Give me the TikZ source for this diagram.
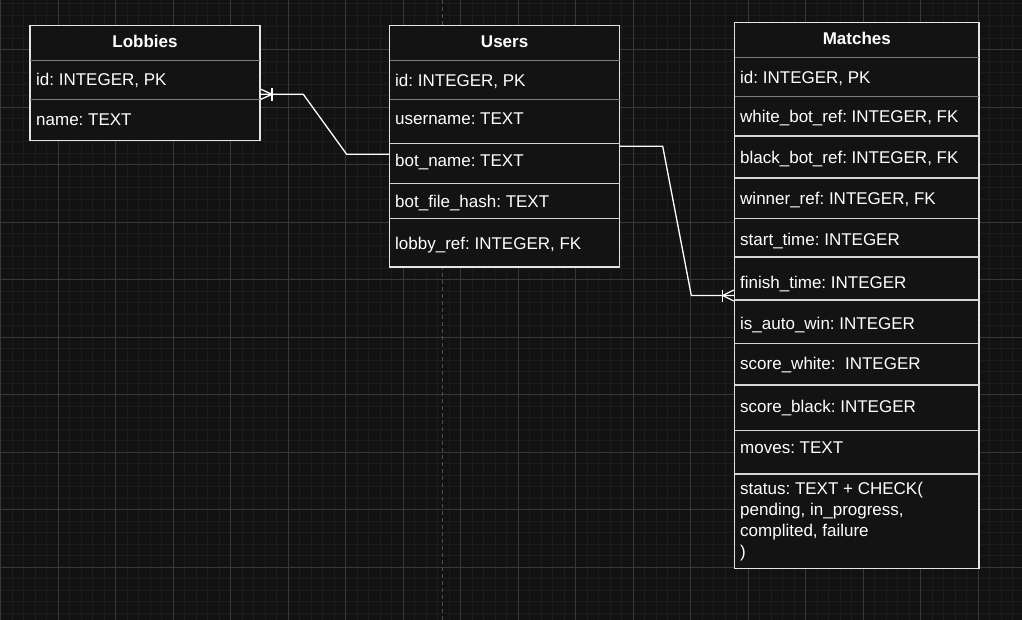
\documentclass[tikz,border=0pt]{standalone}
\usepackage{fontspec}
\setmainfont{Liberation Sans}
\frenchspacing
\usetikzlibrary{positioning}
\usetikzlibrary{calc}

\definecolor{canvas}{RGB}{18,18,18}
\definecolor{gridminor}{RGB}{28,28,28}
\definecolor{gridmajor}{RGB}{56,56,56}
\definecolor{pagebreak}{RGB}{78,78,78}
\definecolor{boxfill}{RGB}{19,19,19}
\definecolor{tableline}{RGB}{228,228,228}
\definecolor{keyline}{RGB}{125,125,125}
\definecolor{rowline}{RGB}{212,212,212}

\begin{document}
\begin{tikzpicture}[x=1pt, y=-1pt,
  table/.style={draw=tableline, fill=boxfill, line width=1.3pt, anchor=north west, inner sep=0pt, outer sep=0pt},
  title/.style={font=\fontsize{17}{21}\selectfont\bfseries, text=white, inner sep=0pt, text height=12.2pt, text depth=0pt},
  field/.style={font=\fontsize{17}{21}\selectfont, text=white, anchor=west, inner sep=0pt, text height=12.2pt, text depth=0pt},
  keysep/.style={draw=keyline, line width=1pt},
  rowsep/.style={draw=rowline, line width=1.2pt},
  link/.style={draw=white, line width=1.3pt},
]

% Canvas
\useasboundingbox (0,0) rectangle (1022,620);
\fill[canvas] (0,0) rectangle (1022,620);

% Draw grid
\begin{scope}
\clip (0,0) rectangle (1022,620);
\foreach \i in {0,...,88} {
    \draw[gridminor, line width=1pt] (0.8+\i*11.5,0) -- (0.8+\i*11.5,620);
}
\foreach \j in {0,...,53} {
    \draw[gridminor, line width=1pt] (0,3.8+\j*11.5) -- (1022,3.8+\j*11.5);
}
\foreach \i in {0,...,17} {
    \draw[gridmajor, line width=1pt] (0.8+\i*57.5,0) -- (0.8+\i*57.5,620);
}
\foreach \j in {1,...,10} {
    \draw[gridmajor, line width=1pt] (0,-7.7+\j*57.5) -- (1022,-7.7+\j*57.5);
}
%page break
\draw[pagebreak, line width=1.5pt, dash pattern=on 4pt off 3pt] (442.7,0) -- (442.7,620);
\end{scope}

% Lobbies
\node[table, minimum width=230pt, minimum height=115pt] (lobbies) at (30,25.5) {};
\draw[keysep] (30,60.3) -- (260,60.3);
\draw[keysep] (30,99.3) -- (260,99.3);
\node[title] (lobbies-title) at (145,41) {Lobbies};
\node[field] (lob-id) at (36,79.8) {id: INTEGER, PK};
\node[field] (lob-name) at (36,119) {name: TEXT};

% Users
\node[table, minimum width=230.2pt, minimum height=241.3pt] (users) at (389.5,25.7) {};
\foreach \y in {60.3,99.3} {
    \draw[keysep] (389.5,\y) -- (619.7,\y);
}
\foreach \y in {143.7,183.7,218.3} {
    \draw[rowsep] (389.5,\y) -- (619.7,\y);
}
\node[title] (users-title) at (504.6,41) {Users};
\node[field] (usr-id) at (395,80) {id: INTEGER, PK};
\node[field] (usr-name) at (395,118.7) {username: TEXT};
\node[field] (usr-bot) at (395,160.5) {bot\_name: TEXT};
\node[field] (usr-hash) at (395,201) {bot\_file\_hash: TEXT};
\node[field] (usr-lobby) at (395,243.3) {lobby\_ref: INTEGER, FK};

% Matches
\node[table, minimum width=244.3pt, minimum height=545.6pt] (matches) at (734.7,22.7) {};
\foreach \y in {57.7,97} {
    \draw[keysep] (734.7,\y) -- (979,\y);
}
\foreach \y in {136,178,218.3,257,300,343.3,385,430.3,474} {
    \draw[rowsep] (734.7,\y) -- (979,\y);
}
\node[title] (matches-title) at (856.8,38) {Matches};
\node[field] (mat-id) at (740,77) {id: INTEGER, PK};
\node[field] (mat-white) at (740,116.3) {white\_bot\_ref: INTEGER, FK};
\node[field] (mat-black) at (740,157) {black\_bot\_ref: INTEGER, FK};
\node[field] (mat-winner) at (740,198.8) {winner\_ref: INTEGER, FK};
\node[field] (mat-start) at (740,239.7) {start\_time: INTEGER};
\node[field] (mat-finish) at (740,282.2) {finish\_time: INTEGER};
\node[field] (mat-auto) at (740,323.3) {is\_auto\_win: INTEGER};
\node[field] (mat-swhite) at (740,363.7) {score\_white: \ INTEGER};
\node[field] (mat-sblack) at (740,406.2) {score\_black: INTEGER};
\node[field] (mat-moves) at (740,447) {moves: TEXT};
\node[font=\fontsize{17}{21}\selectfont, text=white, align=left, anchor=north west, inner sep=0pt] (mat-status) at (740,482.3)
    {status: TEXT + CHECK(\\pending, in\_progress,\\complited, failure\\)};

% Relations
\coordinate (lob-end) at ([yshift=-11.3pt]lobbies.east);
\coordinate (usr-in) at ([yshift=-8pt]users.west);
\draw[link] (lob-end) -- ++(43.3,0) -- ([xshift=-42.8pt]usr-in) -- (usr-in);
\draw[link] (users.east) -- ++(43,0) -- ([xshift=-43.4pt]matches.west) -- (matches.west);

%crow feet
\draw[link] ([xshift=1pt,yshift=5pt]lob-end) -- ([xshift=12pt]lob-end) -- ([xshift=1pt,yshift=-5pt]lob-end);
\draw[link] ([xshift=12pt,yshift=6.5pt]lob-end) -- ([xshift=12pt,yshift=-6.5pt]lob-end);
\draw[link] ([xshift=-1pt,yshift=5.5pt]matches.west) -- ([xshift=-12pt]matches.west) -- ([xshift=-1pt,yshift=-5.5pt]matches.west);
\draw[link] ([xshift=-12pt,yshift=6pt]matches.west) -- ([xshift=-12pt,yshift=-6pt]matches.west);

\end{tikzpicture}
\end{document}
